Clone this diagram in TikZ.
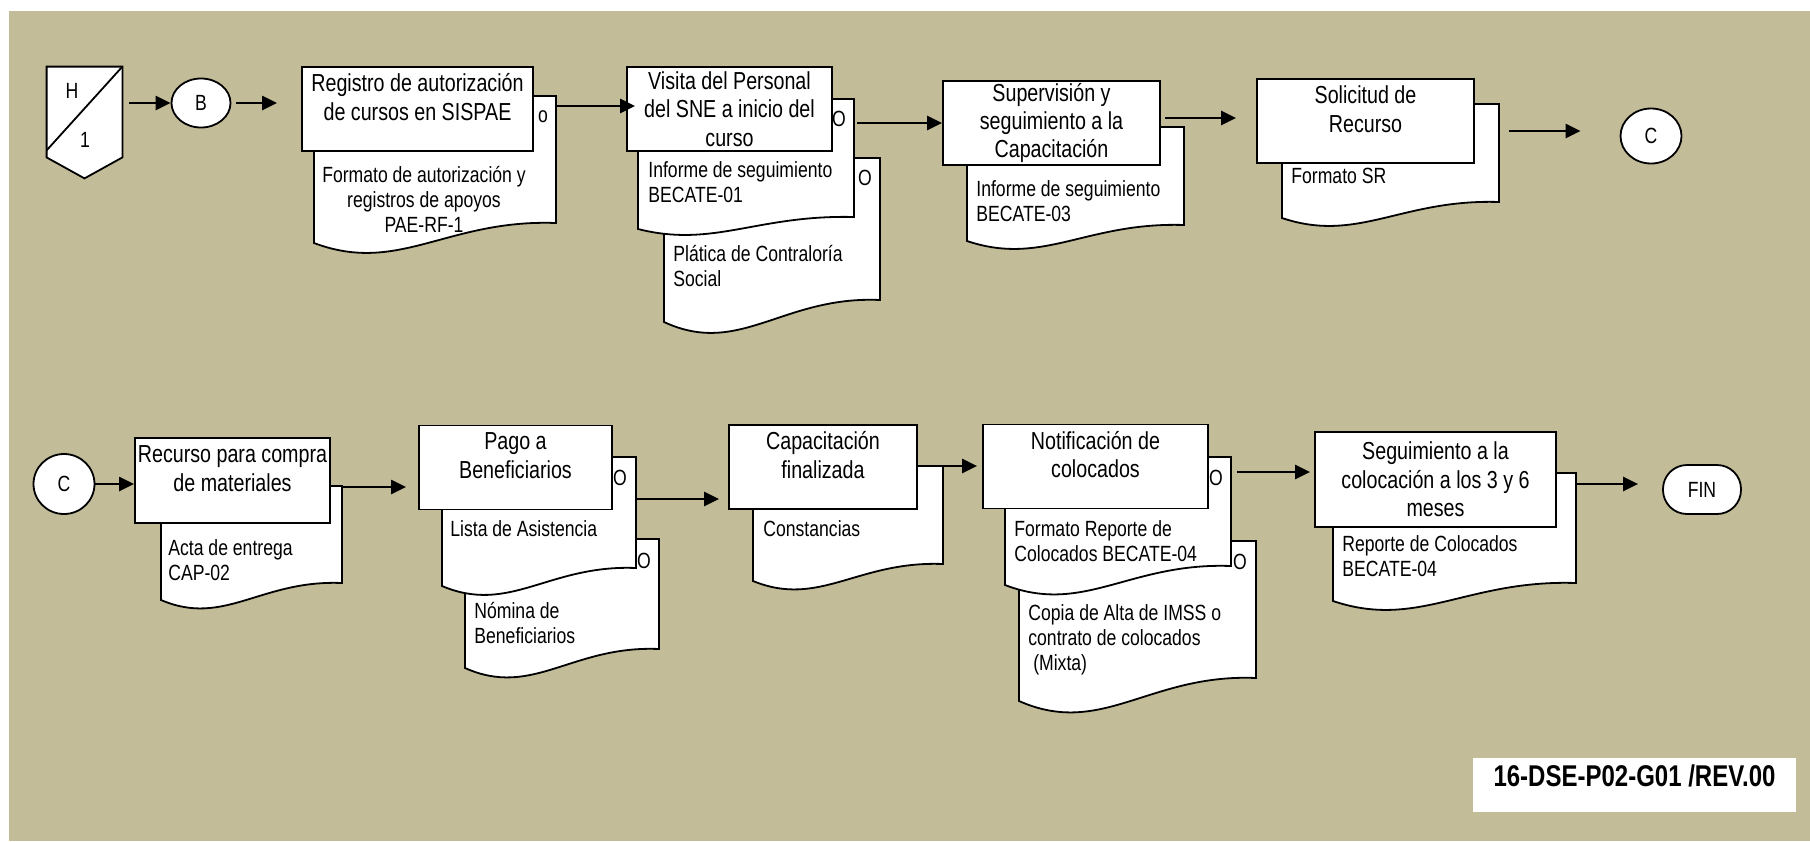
\documentclass[tikz,border=0pt]{standalone}
\usepackage{fontspec}
\setmainfont[FakeStretch=0.8]{Liberation Sans}
\usetikzlibrary{positioning,shapes.geometric,arrows.meta}

\definecolor{sheet}{RGB}{195,188,153}
\tikzstyle{arrow} = [line width=1.15pt, -{Triangle[length=7.5pt,width=7pt]}]

% document outline: [wave depth]{left}{top}{right}{bottom of right edge}
\newcommand{\docu}[5][18]{%
  \draw[docline] (#2,#3) -- (#4,#3) -- (#4,#5)
    .. controls ({#2+0.55*(#4-#2)},{#5-0.2*#1}) and ({#2+0.35*(#4-#2)},{#5+2.6*#1}) .. (#2,{#5+#1}) -- cycle;
}

\begin{document}
\begin{tikzpicture}[x=0.5pt, y=-0.5pt,
    proc/.style={
        rectangle,
        draw=black,
        line width=0.9pt,
        fill=white,
        align=center,
        minimum height=42pt,
        inner sep=1pt,
        font=\fontsize{12.3}{14.2}\selectfont,
      },
    twoline/.style={text depth=12pt},
    docline/.style={draw=black, line width=0.9pt, fill=white},
    doctext/.style={inner sep=0pt, align=left, anchor=base west, font=\fontsize{11}{12.5}\selectfont},
    conn/.style={ellipse, draw=black, line width=0.9pt, fill=white, inner sep=0pt, font=\fontsize{11}{13}\selectfont},
    omark/.style={inner sep=0pt, font=\fontsize{11}{13}\selectfont},
  ]

  % sheet
  \useasboundingbox (0,0) rectangle (1810,841);
  \fill[white] (0,0) rectangle (1810,841);
  \fill[sheet] (9,11) rectangle (1810,841);

  % off-page connector
  \node[minimum width=37.5pt, minimum height=45pt, inner sep=0pt] (offpage) at (84.5,112) {};
  \draw[docline] (offpage.north west) -- (offpage.north east) -- (offpage.south east)
    -- ([yshift=-10.5pt]offpage.south) -- (offpage.south west) -- cycle;
  \draw[line width=0.9pt] ([yshift=3.5pt]offpage.south west) -- (offpage.north east);
  \node[omark] (offh) at (72,91) {H};
  \node[omark] (offone) at (85,140) {1};

  % connector B
  \node[conn, minimum width=29.5pt, minimum height=24.5pt] (b) at (201,103) {B};

  % Registro
  \docu[20]{314}{96}{556}{223}
  \node[doctext, align=center, anchor=base] (regdoc) at (424,232) {Formato de autorización y\\registros de apoyos\\PAE-RF-1};
  \node[omark] (regmark) at (543,117) {o};
  \node[proc, twoline, minimum width=115.5pt] (reg) at (417.5,109) {Registro de autorización\\de cursos en SISPAE};

  % Visita
  \docu[22]{664}{158}{880}{300}
  \node[doctext] (vis2doc) at (673,286) {Plática de Contraloría\\Social};
  \node[omark] (vis2mark) at (865,178) {O};
  \docu[12]{638}{99}{854}{217}
  \node[doctext] (vis1doc) at (648,202) {Informe de seguimiento\\BECATE-01};
  \node[omark] (vis1mark) at (839,119) {O};
  \node[proc, minimum width=102.5pt] (vis) at (729.5,109) {Visita del Personal\\del SNE a inicio del\\curso};

  % Supervision
  \docu[16]{967}{127}{1184}{225}
  \node[doctext] (supdoc) at (976,221) {Informe de seguimiento\\BECATE-03};
  \node[proc, minimum width=108.5pt] (sup) at (1051.5,123) {Supervisión y\\seguimiento a la\\Capacitación};

  % Solicitud
  \docu[16]{1282}{104}{1499}{202}
  \node[doctext] (soldoc) at (1291,183) {Formato SR};
  \node[proc, twoline, minimum width=108.5pt] (sol) at (1365.5,121) {Solicitud de\\Recurso};

  % connector C (out)
  \node[conn, minimum width=30.5pt, minimum height=27.5pt] (c1) at (1651,136) {C};

  % connector C (in)
  \node[conn, minimum width=30.5pt, minimum height=30pt] (c2) at (64,484) {C};

  % Recurso
  \docu[17]{161}{486}{342}{583}
  \node[doctext] (recdoc) at (168,580) {Acta de entrega\\CAP-02};
  \node[proc, twoline, minimum width=97.5pt, minimum height=42.5pt] (rec) at (232.5,480.5) {Recurso para compra\\de materiales};

  % Pago
  \docu[19]{465}{539}{659}{649}
  \node[doctext] (pag2doc) at (474,643) {Nómina de\\Beneficiarios};
  \node[omark] (pag2mark) at (644,561) {O};
  \docu{442}{457}{636}{568}
  \node[doctext] (pag1doc) at (450,536) {Lista de Asistencia};
  \node[omark] (pag1mark) at (620,478) {O};
  \node[proc, twoline, minimum width=96.5pt] (pag) at (515.5,467.5) {Pago a\\Beneficiarios};

  % Capacitacion
  \docu[17]{753}{466}{943}{564}
  \node[doctext] (capdoc) at (763,536) {Constancias};
  \node[proc, twoline, minimum width=94pt] (cap) at (823,467) {Capacitación\\finalizada};

  % Notificacion
  \docu[23]{1019}{541}{1256}{678}
  \node[doctext] (noti2doc) at (1028,670) {Copia de Alta de IMSS o\\contrato de colocados\\~(Mixta)};
  \node[omark] (noti2mark) at (1240,562) {O};
  \docu[19]{1005}{457}{1231}{566}
  \node[doctext] (noti1doc) at (1014,561) {Formato Reporte de\\Colocados BECATE-04};
  \node[omark] (noti1mark) at (1216,478) {O};
  \node[proc, twoline, minimum width=112.5pt] (noti) at (1095.5,466.5) {Notificación de\\colocados};

  % Seguimiento
  \docu{1333}{473}{1576}{583}
  \node[doctext] (segdoc) at (1342,576) {Reporte de Colocados\\BECATE-04};
  \node[proc, minimum width=120.5pt, minimum height=47.5pt] (seg) at (1435.5,479.5) {Seguimiento a la\\colocación a los 3 y 6\\meses};

  % end
  \node[rectangle, rounded corners=12pt, draw=black, line width=0.9pt, fill=white, minimum width=39pt,
    minimum height=24.5pt, font=\fontsize{11}{13}\selectfont] (fin) at (1702,489.5) {FIN};

  % document code
  \node[fill=white, minimum width=161.5pt, minimum height=26pt, text depth=9pt,
    font=\bfseries\fontsize{15}{18}\selectfont] (code) at (1634.5,785) {16-DSE-P02-G01 /REV.00};

  % Connections
  \coordinate (regout) at (556,106);
  \coordinate (visout) at (857,123);
  \coordinate (supout) at (1165,118);
  \coordinate (solout) at (1509,131);
  \coordinate (recout) at (342,487);
  \coordinate (pagout) at (637,499);
  \coordinate (capout) at (917,466);
  \coordinate (notiout) at (1237,472);
  \coordinate (segout) at (1576,484);
  \draw[arrow] ([xshift=3.5pt,yshift=4.5pt]offpage.east) -- (b);
  \draw[arrow, shorten <=2.5pt, shorten >=12pt] (b.east) -- (b.east -| reg.west);
  \draw[arrow, shorten >=-4.5pt] (regout) -- (regout -| vis.west);
  \draw[arrow] (visout) -- (visout -| sup.west);
  \draw[arrow, shorten >=10pt] (supout) -- (supout -| sol.west);
  \draw[arrow, shorten >=19.5pt] (solout) -- (solout -| c1.west);
  \draw[arrow] (c2.east) -- (c2.east -| rec.west);
  \draw[arrow, shorten >=6pt] (recout) -- (recout -| pag.west);
  \draw[arrow, shorten >=4.5pt] (pagout) -- (pagout -| cap.west);
  \draw[arrow, shorten >=2.5pt] (capout) -- (capout -| noti.west);
  \draw[arrow, shorten >=2pt] (notiout) -- (notiout -| seg.west);
  \draw[arrow, shorten >=12pt] (segout) -- (segout -| fin.west);

\end{tikzpicture}
\end{document}
